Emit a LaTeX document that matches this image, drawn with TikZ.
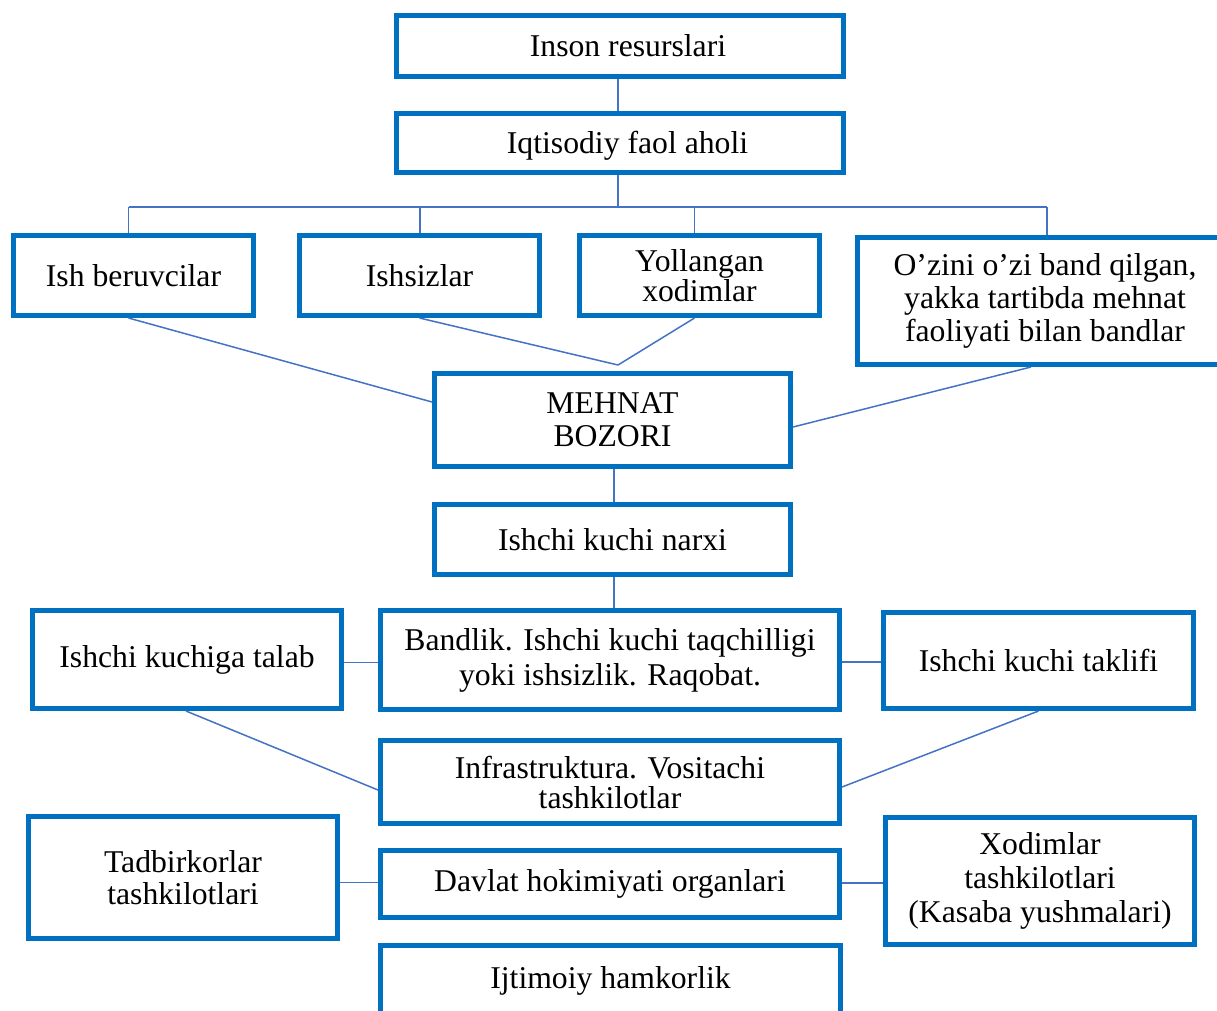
\documentclass[tikz,border=0pt]{standalone}
\usepackage{fontspec}
\setmainfont{Liberation Serif}
\definecolor{boxblue}{HTML}{0070C0}
\definecolor{linkblue}{HTML}{4472C4}
\begin{document}
\begin{tikzpicture}[x=1pt, y=-1pt,
  box/.style={draw=boxblue, line width=5pt, fill=white, align=center, inner sep=0pt,
    font=\fontsize{31.7}{32}\selectfont},
  link/.style={draw=linkblue, line width=1.5pt},
]
% page
\fill[white] (0,0) rectangle (1217,1010);
\useasboundingbox (0,0) rectangle (1217,1010);
\clip (0,0) rectangle (1217,1010);

% boxes
\node[box, minimum width=447, minimum height=61] (inson) at (620,46) {\hspace*{16pt}Inson resurslari};
\node[box, minimum width=447, minimum height=59, text height=27pt, text depth=7pt] (iqt) at (620,143) {\hspace*{15pt}Iqtisodiy faol aholi};
\node[box, minimum width=240, minimum height=80] (ishber) at (133.5,275.5) {Ish beruvcilar};
\node[box, minimum width=240, minimum height=80] (ishsiz) at (419.5,275.5) {Ishsizlar};
\node[box, minimum width=240, minimum height=80, font=\fontsize{31.7}{30}\selectfont] (yoll) at (699.5,275.5) {Yollangan\\xodimlar};
\node[box, minimum width=375, minimum height=127, font=\fontsize{31.7}{33}\selectfont] (ozini) at (1045,301) {O’zini o’zi band qilgan,\\yakka tartibda mehnat\\faoliyati bilan bandlar};
\node[box, minimum width=356, minimum height=93, font=\fontsize{31.7}{33}\selectfont] (mehnat) at (612.5,420) {MEHNAT\\BOZORI};
\node[box, minimum width=356, minimum height=70] (narxi) at (612.5,539.5) {Ishchi kuchi narxi};
\node[box, minimum width=459, minimum height=99, font=\fontsize{31.7}{35}\selectfont] (bandlik) at (610,660) {Bandlik. Ishchi kuchi taqchilligi\\yoki ishsizlik. Raqobat.};
\node[box, minimum width=309, minimum height=98] (talab) at (187,659.5) {Ishchi kuchiga talab};
\node[box, minimum width=310, minimum height=96] (taklif) at (1038.5,660.5) {Ishchi kuchi taklifi};
\node[box, minimum width=459, minimum height=83, font=\fontsize{31.7}{30}\selectfont] (infra) at (610,782) {Infrastruktura. Vositachi\\tashkilotlar};
\node[box, minimum width=309, minimum height=122] (tadbir) at (183,877.5) {Tadbirkorlar\\tashkilotlari};
\node[box, minimum width=459, minimum height=67] (davlat) at (610,884) {Davlat hokimiyati organlari};
\node[box, minimum width=309, minimum height=127, font=\fontsize{31.7}{34}\selectfont] (xodim) at (1040,881) {Xodimlar\\tashkilotlari\\(Kasaba yushmalari)};
\node[box, minimum width=460, minimum height=77, text depth=13.7pt] (ijtimoiy) at (610.5,984) {Ijtimoiy hamkorlik};

% fork below "Iqtisodiy faol aholi"
\coordinate (fork) at (618,207);
\coordinate (busL) at (128.5,207);
\coordinate (busR) at (1047,207);
\coordinate (dropA) at (128.5,207);
\coordinate (dropB) at (420,207);
\coordinate (dropC) at (694.5,207);
\coordinate (dropD) at (1047,207);
\coordinate (apex) at (618,365);

\draw[link] ([xshift=-2pt]inson.south) -- ([xshift=-2pt]iqt.north);
\draw[link] ([xshift=-2pt]iqt.south) -- (fork);
\draw[link] (busL) -- (busR);
\draw[link] (dropA) -- (dropA |- ishber.north);
\draw[link] (dropB) -- (dropB |- ishsiz.north);
\draw[link] (dropC) -- (dropC |- yoll.north);
\draw[link] (dropD) -- (dropD |- ozini.north);

% into the labour market
\draw[link] ([xshift=-5pt]ishber.south) -- ([yshift=18pt]mehnat.west);
\draw[link] (ishsiz.south) -- (apex);
\draw[link] ([xshift=-5pt]yoll.south) -- (apex);
\draw[link] ([xshift=-14pt]ozini.south) -- ([yshift=-7pt]mehnat.east);

% central column
\draw[link] ([xshift=1.5pt]mehnat.south) -- ([xshift=1.5pt]narxi.north);
\draw[link] ([xshift=1.5pt]narxi.south) -- ([xshift=1.5pt]narxi.south |- bandlik.north);

% demand / supply
\draw[link] ([yshift=-3pt]talab.east) -- ([yshift=-3pt]talab.east -| bandlik.west);
\draw[link] ([yshift=-2pt]bandlik.east) -- ([yshift=-2pt]bandlik.east -| taklif.west);
\draw[link] ([xshift=-1pt]talab.south) -- ([yshift=-8pt]infra.west);
\draw[link] (taklif.south) -- ([yshift=-5pt]infra.east);

% social partners
\draw[link] ([yshift=-5pt]tadbir.east) -- ([yshift=-5pt]tadbir.east -| davlat.west);
\draw[link] ([yshift=1pt]davlat.east) -- ([yshift=1pt]davlat.east -| xodim.west);
\end{tikzpicture}
\end{document}
